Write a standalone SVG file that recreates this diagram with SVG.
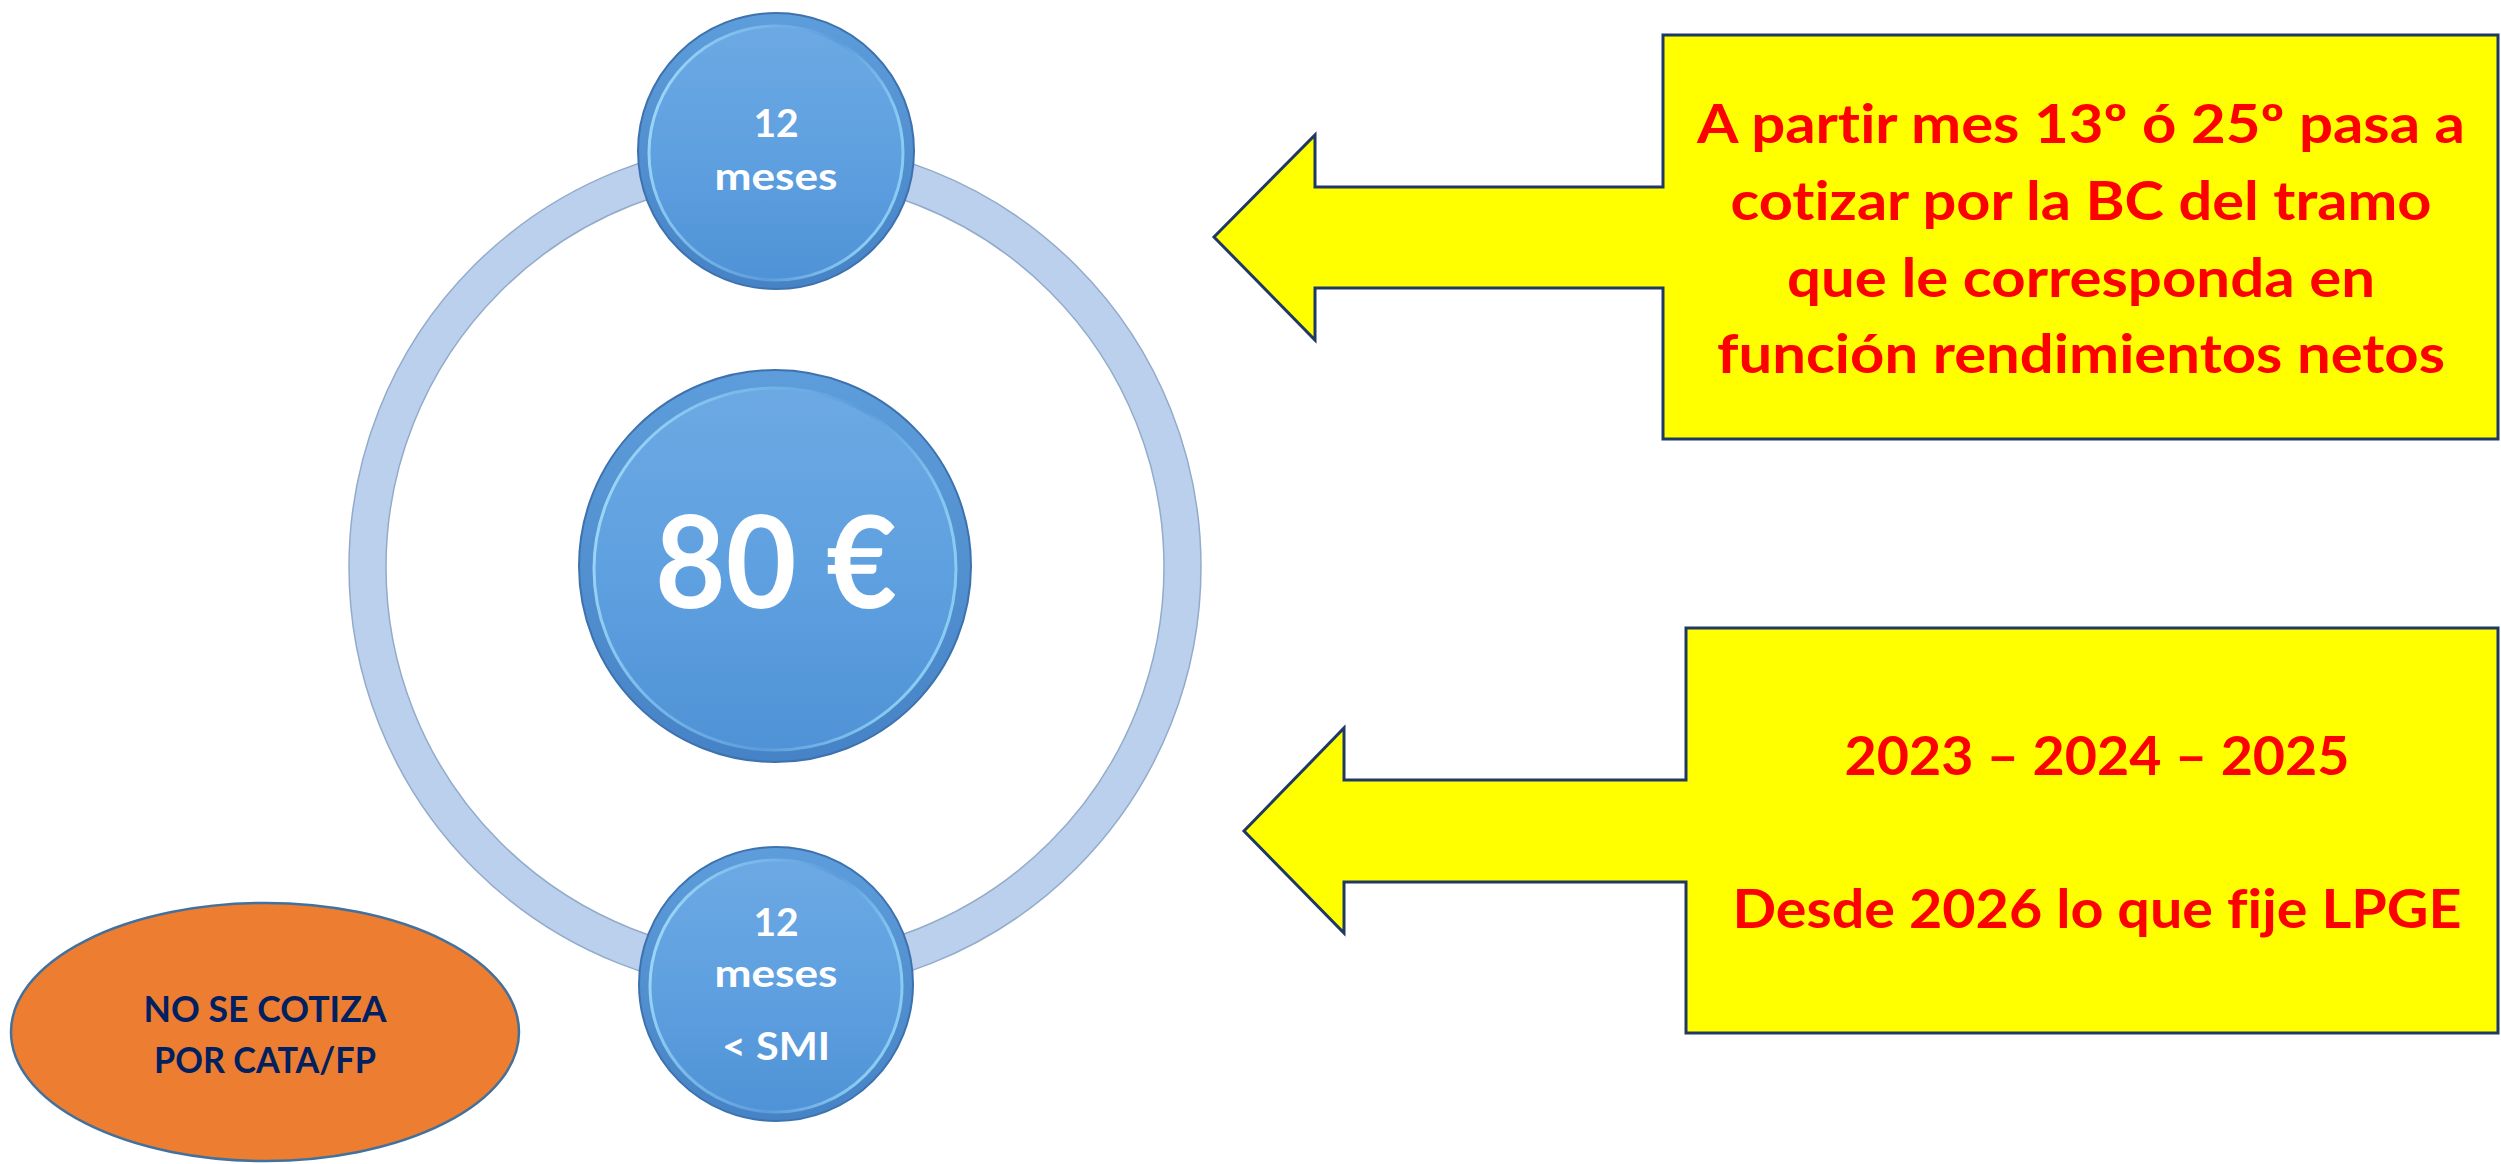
<svg xmlns="http://www.w3.org/2000/svg" width="2501" height="1164" viewBox="0 0 2501 1164">
<defs>
<style>
.bubble-out{fill:url(#gOut);stroke:#3D72AE;stroke-width:2}
.bubble-in{fill:url(#gIn);stroke:url(#gRim);stroke-width:3}
text{font-variant-ligatures:none}
.wt{font-family:Lato,"Open Sans","Liberation Sans",sans-serif;font-weight:bold;fill:#FFFFFF;text-anchor:middle}
.rt{font-family:Lato,"Open Sans","Liberation Sans",sans-serif;font-weight:bold;fill:#FF0000;text-anchor:middle;font-size:53px}
.nt{font-family:Lato,"Open Sans","Liberation Sans",sans-serif;font-weight:bold;fill:#002060;text-anchor:middle;font-size:37px}
.callout{fill:#FFFF00;stroke:#1F3864;stroke-width:3;stroke-linejoin:miter}
</style>
<linearGradient id="gOut" x1="0" y1="0" x2="0" y2="1">
<stop offset="0" stop-color="#5E9DDB"/>
<stop offset="1" stop-color="#4683C6"/>
</linearGradient>
<linearGradient id="gIn" x1="0" y1="0" x2="0" y2="1">
<stop offset="0" stop-color="#6CA9E4"/>
<stop offset="0.5" stop-color="#5FA0E0"/>
<stop offset="1" stop-color="#4F93D6"/>
</linearGradient>
<linearGradient id="gRim" x1="0" y1="0" x2="1" y2="0.3">
<stop offset="0" stop-color="#A8E2FA"/>
<stop offset="0.35" stop-color="#7DBBEC"/>
<stop offset="0.7" stop-color="#5C9CDB"/>
<stop offset="1" stop-color="#8ACBF2"/>
</linearGradient>
</defs>
<rect width="2501" height="1164" fill="#FFFFFF"/>

<g id="connectors">
<path id="cycle-ring" fill-rule="evenodd" fill="#BBD0ED" stroke="#93ABCB" stroke-width="1.5" d="M 349,567 a 426,426 0 1,0 852,0 a 426,426 0 1,0 -852,0 Z M 386,567 a 389,389 0 1,1 778,0 a 389,389 0 1,1 -778,0 Z"/>
</g>

<g id="node-top">
<circle class="bubble-out" cx="776" cy="151" r="138"/>
<circle class="bubble-in" cx="776" cy="153" r="127"/>
<text class="wt" font-size="39" x="776" y="137">12</text>
<text class="wt" font-size="39" x="776" y="190" textLength="123" lengthAdjust="spacingAndGlyphs">meses</text>
</g>

<g id="node-center">
<circle class="bubble-out" cx="775" cy="566" r="196"/>
<circle class="bubble-in" cx="775" cy="569" r="181"/>
<text class="wt" font-size="128" x="776" y="608" textLength="242" lengthAdjust="spacingAndGlyphs">80 €</text>
</g>

<g id="node-bottom">
<circle class="bubble-out" cx="776" cy="984" r="137"/>
<circle class="bubble-in" cx="776" cy="986" r="126"/>
<text class="wt" font-size="39" x="776" y="936">12</text>
<text class="wt" font-size="39" x="776" y="987" textLength="123" lengthAdjust="spacingAndGlyphs">meses</text>
<text class="wt" font-size="39" x="776" y="1060" textLength="108" lengthAdjust="spacingAndGlyphs">&lt; SMI</text>
</g>

<g id="node-nocotiza">
<ellipse cx="265" cy="1032" rx="254" ry="129" fill="#ED7D31" stroke="#41719C" stroke-width="2.5"/>
<text class="nt" x="265" y="1022" textLength="243" lengthAdjust="spacingAndGlyphs">NO SE COTIZA</text>
<text class="nt" x="265" y="1073" textLength="222" lengthAdjust="spacingAndGlyphs">POR CATA/FP</text>
</g>

<g id="node-callout-top">
<path class="callout" d="M 1663,35 H 2498 V 439 H 1663 V 288 H 1315 V 340 L 1214,237 L 1315,135 V 187 H 1663 Z"/>
<text class="rt" x="2081" y="143" textLength="768" lengthAdjust="spacingAndGlyphs">A partir mes 13º ó 25º pasa a</text>
<text class="rt" x="2081" y="220" textLength="701" lengthAdjust="spacingAndGlyphs">cotizar por la BC del tramo</text>
<text class="rt" x="2081" y="297" textLength="588" lengthAdjust="spacingAndGlyphs">que le corresponda en</text>
<text class="rt" x="2081" y="373" textLength="728" lengthAdjust="spacingAndGlyphs">función rendimientos netos</text>
</g>

<g id="node-callout-bottom">
<path class="callout" d="M 1686,628 H 2498 V 1033 H 1686 V 882 H 1344 V 933 L 1244,831 L 1344,728 V 780 H 1686 Z"/>
<text class="rt" x="2097" y="775" font-size="56" textLength="505" lengthAdjust="spacingAndGlyphs">2023 – 2024 – 2025</text>
<text class="rt" x="2097" y="928" font-size="56" textLength="729" lengthAdjust="spacingAndGlyphs">Desde 2026 lo que fije LPGE</text>
</g>
</svg>
